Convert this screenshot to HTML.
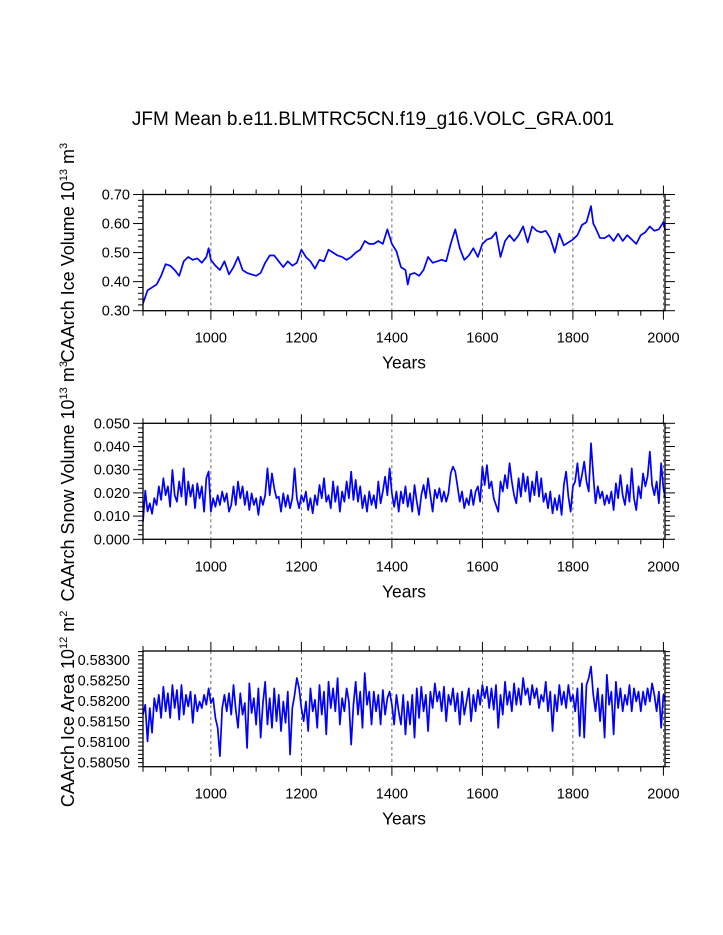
<!DOCTYPE html>
<html><head><meta charset="utf-8"><style>
html,body{margin:0;padding:0;background:#fff;}
svg{display:block;font-family:"Liberation Sans",sans-serif;}
</style></head><body>
<svg id="chart" width="723" height="935" viewBox="0 0 723 935">
<text x="373" y="125" text-anchor="middle" font-size="19">JFM Mean b.e11.BLMTRC5CN.f19_g16.VOLC_GRA.001</text>
</svg>
<script>
// ---- Panel 1: CAArch Ice Volume ----
const iceVolYears = [850,860,870,880,890,900,910,920,930,940,950,960,970,980,990,995,1000,1010,1020,1030,1040,1050,1060,1070,1080,1090,1100,1110,1120,1130,1140,1150,1160,1170,1180,1190,1200,1210,1220,1230,1240,1250,1260,1270,1280,1290,1300,1310,1320,1330,1340,1350,1360,1370,1380,1390,1400,1410,1420,1430,1435,1440,1450,1460,1470,1480,1490,1500,1510,1520,1530,1540,1550,1560,1570,1580,1590,1600,1610,1620,1630,1640,1650,1660,1670,1680,1690,1700,1710,1720,1730,1740,1750,1760,1770,1780,1790,1800,1810,1820,1830,1840,1845,1850,1860,1870,1880,1890,1900,1910,1920,1930,1940,1950,1960,1970,1980,1990,2000,2004];
const iceVolValues = [0.325,0.37,0.38,0.39,0.42,0.46,0.455,0.44,0.42,0.47,0.485,0.475,0.48,0.465,0.485,0.515,0.475,0.455,0.44,0.47,0.425,0.45,0.485,0.44,0.43,0.425,0.42,0.43,0.465,0.49,0.49,0.47,0.45,0.47,0.455,0.465,0.51,0.485,0.47,0.445,0.475,0.47,0.51,0.50,0.49,0.485,0.475,0.485,0.50,0.51,0.54,0.53,0.53,0.54,0.53,0.58,0.53,0.505,0.45,0.44,0.39,0.425,0.43,0.42,0.44,0.485,0.465,0.47,0.475,0.47,0.53,0.58,0.515,0.475,0.49,0.515,0.485,0.53,0.545,0.55,0.57,0.485,0.54,0.56,0.54,0.56,0.59,0.535,0.59,0.575,0.57,0.575,0.55,0.50,0.565,0.525,0.535,0.545,0.56,0.595,0.605,0.66,0.60,0.585,0.55,0.55,0.56,0.54,0.565,0.54,0.56,0.545,0.53,0.56,0.57,0.59,0.575,0.58,0.605,0.575];
const iceVolTicks = ["0.30","0.40","0.50","0.60","0.70"];

// ---- Panel 2: CAArch Snow Volume (5-year steps from 850, last = 2004) ----
const snowVolValues = [0.0076,0.021,0.012,0.0155,0.011,0.0177,0.0148,0.0228,0.017,0.0263,0.019,0.0228,0.014,0.0299,0.019,0.0162,0.0249,0.0184,0.0306,0.0148,0.0249,0.0184,0.0234,0.0134,0.0241,0.0177,0.0228,0.0119,0.0263,0.0292,0.0119,0.0177,0.014,0.019,0.0148,0.0206,0.0162,0.0198,0.0119,0.0148,0.0228,0.0148,0.0249,0.0177,0.0228,0.0148,0.0206,0.0126,0.0198,0.0148,0.0177,0.0105,0.0184,0.0148,0.019,0.0306,0.019,0.0284,0.022,0.0177,0.0184,0.0119,0.0198,0.014,0.019,0.0134,0.0177,0.0306,0.0177,0.0134,0.019,0.0162,0.0206,0.0126,0.0177,0.0112,0.019,0.0148,0.0234,0.0177,0.0263,0.0162,0.019,0.0134,0.0249,0.0162,0.0228,0.0119,0.0206,0.0162,0.0249,0.0177,0.0292,0.017,0.0256,0.0162,0.0228,0.0134,0.019,0.0119,0.0206,0.0148,0.019,0.0134,0.0249,0.0155,0.0206,0.027,0.019,0.0306,0.0198,0.014,0.0206,0.0119,0.0206,0.0155,0.0228,0.014,0.0198,0.0119,0.0234,0.0162,0.0105,0.019,0.0234,0.0177,0.0263,0.019,0.0119,0.0213,0.0177,0.022,0.0162,0.0206,0.0162,0.0198,0.0284,0.0313,0.0292,0.0228,0.0162,0.0206,0.0134,0.0177,0.0148,0.0213,0.0148,0.0206,0.0228,0.0162,0.0313,0.0234,0.032,0.022,0.0249,0.0177,0.0148,0.0119,0.0249,0.0206,0.0277,0.022,0.0328,0.0249,0.019,0.0155,0.0263,0.0184,0.0284,0.0206,0.027,0.0162,0.0249,0.019,0.0292,0.0184,0.0263,0.0162,0.0198,0.0134,0.0206,0.0112,0.0177,0.0126,0.019,0.0105,0.0234,0.0292,0.0184,0.0119,0.0228,0.0249,0.0328,0.0228,0.0277,0.0335,0.0249,0.0206,0.0414,0.0277,0.0155,0.0228,0.0177,0.0206,0.0148,0.019,0.0155,0.0206,0.0126,0.0241,0.0177,0.0277,0.019,0.0148,0.0234,0.0162,0.0306,0.0177,0.0126,0.0228,0.0177,0.0284,0.0228,0.027,0.0378,0.0234,0.019,0.0249,0.0155,0.0328,0.022,0.0177];
const snowVolTicks = ["0.000","0.010","0.020","0.030","0.040","0.050"];

// ---- Panel 3: CAArch Ice Area (5-year steps from 850, last = 2004) ----
const iceAreaValues = [0.58167,0.58191,0.58102,0.58183,0.58123,0.58207,0.58175,0.58215,0.58159,0.58235,0.58175,0.58219,0.58159,0.58239,0.58183,0.58227,0.58155,0.58239,0.58167,0.58215,0.58187,0.58223,0.58147,0.58215,0.58175,0.58199,0.58183,0.58215,0.58191,0.58231,0.58195,0.58207,0.58159,0.58135,0.58066,0.58183,0.58215,0.58175,0.58219,0.58167,0.58239,0.58179,0.58135,0.58219,0.58167,0.58195,0.58086,0.58243,0.58171,0.58207,0.58143,0.58231,0.58111,0.58195,0.58247,0.58143,0.58207,0.58135,0.58231,0.58151,0.58215,0.58127,0.58199,0.58147,0.58223,0.58070,0.58183,0.58215,0.58256,0.58231,0.58183,0.58151,0.58199,0.58127,0.58231,0.58175,0.58203,0.58135,0.58239,0.58167,0.58223,0.58119,0.58247,0.58183,0.58231,0.58175,0.58256,0.58143,0.58207,0.58175,0.58231,0.58199,0.58094,0.58191,0.58247,0.58167,0.58223,0.58135,0.58268,0.58191,0.58223,0.58143,0.58223,0.58175,0.58215,0.58143,0.58227,0.58167,0.58207,0.58223,0.58191,0.58143,0.58215,0.58175,0.58143,0.58215,0.58119,0.58199,0.58143,0.58215,0.58111,0.58231,0.58159,0.58235,0.58175,0.58215,0.58127,0.58223,0.58183,0.58243,0.58199,0.58223,0.58175,0.58235,0.58151,0.58215,0.58191,0.58231,0.58175,0.58219,0.58143,0.58223,0.58167,0.58199,0.58231,0.58151,0.58215,0.58175,0.58227,0.58191,0.58239,0.58207,0.58235,0.58183,0.58231,0.58179,0.58239,0.58135,0.58215,0.58167,0.58247,0.58191,0.58223,0.58175,0.58243,0.58191,0.58231,0.58191,0.58256,0.58215,0.58231,0.58191,0.58239,0.58207,0.58231,0.58183,0.58215,0.58199,0.58247,0.58175,0.58223,0.58127,0.58215,0.58175,0.58239,0.58191,0.58223,0.58183,0.58239,0.58199,0.58215,0.58175,0.58231,0.58115,0.58243,0.58111,0.58239,0.58256,0.58284,0.58215,0.58175,0.58231,0.58151,0.58215,0.58111,0.58264,0.58191,0.58223,0.58119,0.58247,0.58183,0.58231,0.58175,0.58215,0.58191,0.58239,0.58175,0.58231,0.58199,0.58223,0.58175,0.58223,0.58191,0.58231,0.58199,0.58243,0.58215,0.58175,0.58223,0.58135,0.58215,0.58199];
const iceAreaTicks = ["0.58050","0.58100","0.58150","0.58200","0.58250","0.58300"];

const xTickLabels = ["1000","1200","1400","1600","1800","2000"];

const NS = "http://www.w3.org/2000/svg";
const svg = document.getElementById('chart');
function mk(tag, attrs){ const e=document.createElementNS(NS,tag); for(const k in attrs) e.setAttribute(k,attrs[k]); svg.appendChild(e); return e; }

const X0=143, X1=665, YR0=850, YR1=2003.5;
function xs(yr){ return X0 + (yr-YR0)/(YR1-YR0)*(X1-X0); }

function stepYears(n){ const a=[]; for(let i=0;i<n;i++) a.push(i<n-1?850+5*i:2004); return a; }

function panel(opts){
  const {top,bot,vmin,vmax,ticks,minorStep,years,values,label,key}=opts;
  const ys = v => bot - (v-vmin)/(vmax-vmin)*(bot-top);
  xTickLabels.forEach(t=>{
    const l=mk('line',{x1:xs(+t),x2:xs(+t),y1:top,y2:bot,stroke:'#444','stroke-width':0.8,'stroke-dasharray':'3,3'});
    
    
  });
  let d='';
  for(let i=0;i<values.length;i++){ d+=(i?'L':'M')+xs(years[i]).toFixed(2)+','+ys(values[i]).toFixed(2); }
  const p=mk('path',{d:d,fill:'none',stroke:'#0000ff','stroke-width':1.7,'stroke-linejoin':'round'});
  
  
  const f=mk('rect',{x:X0,y:top,width:X1-X0,height:bot-top,fill:'none',stroke:'#000','stroke-width':1.3});
  
  
  for(let yr=850; yr<=2000; yr+=50){
    const major = (yr%200===0);
    const len = major?9:5;
    mk('line',{x1:xs(yr),x2:xs(yr),y1:bot,y2:bot+len,stroke:'#000','stroke-width':1});
    mk('line',{x1:xs(yr),x2:xs(yr),y1:top,y2:top-len,stroke:'#000','stroke-width':1});
  }
  xTickLabels.forEach(t=>{
    const tx=mk('text',{x:xs(+t),y:bot+32,'text-anchor':'middle','font-size':14.5});
    tx.textContent=t;
    
    
  });
  const xt=mk('text',{x:404,y:bot+58,'text-anchor':'middle','font-size':17.5});
  xt.textContent='Years';
  
  
  const majorStep=(+ticks[1])-(+ticks[0]);
  const first=+ticks[0];
  for(let v=vmin; v<=vmax+1e-12; v+=minorStep){
    const rel=(v-first)/majorStep;
    const major=Math.abs(rel-Math.round(rel))<1e-6;
    const len=major?10:5;
    const y=ys(v);
    mk('line',{x1:X0-len,x2:X0,y1:y,y2:y,stroke:'#000','stroke-width':1});
    mk('line',{x1:X1,x2:X1+len,y1:y,y2:y,stroke:'#000','stroke-width':1});
  }
  ticks.forEach(t=>{
    const ty=mk('text',{x:X0-13,y:ys(+t)+5,'text-anchor':'end','font-size':14.5});
    ty.textContent=t;
    
    
  });
  const cy=(top+bot)/2;
  const yt=mk('text',{x:0,y:0,'text-anchor':'middle','font-size':18,transform:'translate(74,'+cy+') rotate(-90)'});
  yt.innerHTML=label;
  
  
}

const sup = s => '<tspan dy="-7" font-size="11">'+s+'</tspan><tspan dy="7"> </tspan>';
panel({key:'ice-volume',top:194.5,bot:310.7,vmin:0.30,vmax:0.70,ticks:iceVolTicks,minorStep:0.02,
  years:iceVolYears,values:iceVolValues,
  label:'CAArch Ice Volume 10'+sup('13')+'m<tspan dy="-7" font-size="11">3</tspan>'});
panel({key:'snow-volume',top:423.3,bot:539.3,vmin:0,vmax:0.05,ticks:snowVolTicks,minorStep:0.002,
  years:stepYears(snowVolValues.length),values:snowVolValues,
  label:'CAArch Snow Volume 10'+sup('13')+'m<tspan dy="-7" font-size="11">3</tspan>'});
panel({key:'ice-area',top:651,bot:766.7,vmin:0.580403,vmax:0.583218,ticks:iceAreaTicks,minorStep:0.0001,
  years:stepYears(iceAreaValues.length),values:iceAreaValues,
  label:'CAArch Ice Area 10'+sup('12')+'m<tspan dy="-7" font-size="11">2</tspan>'});
</script>
</body></html>
